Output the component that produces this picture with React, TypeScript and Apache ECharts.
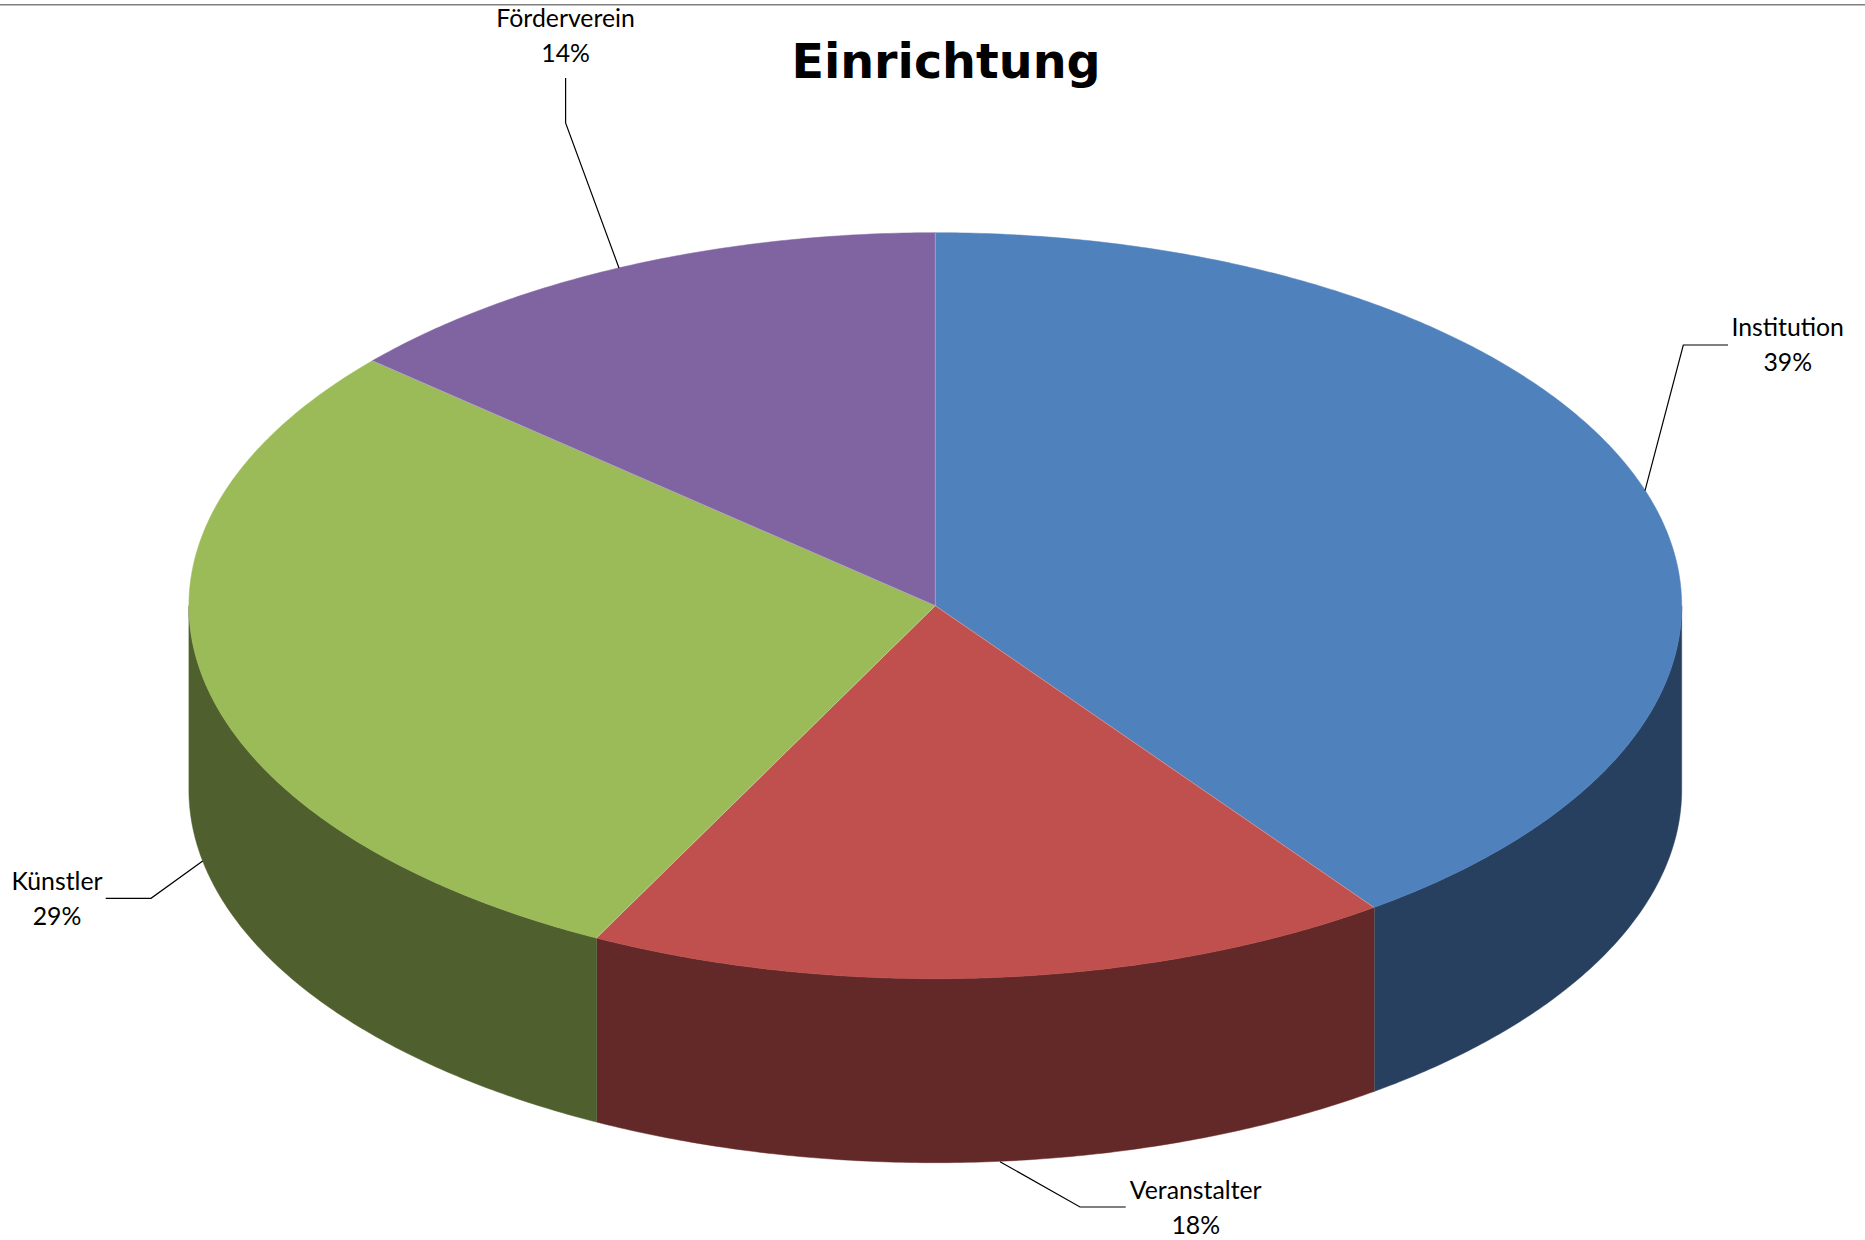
import React, { useEffect, useRef } from "react";
import * as echarts from "echarts";

const TITLE = "Einrichtung";
const CATEGORIES = ["Institution", "Veranstalter", "Künstler", "Förderverein"];
// Percentages as printed on the chart's labels.
const PRINTED_PERCENT = ["39%", "18%", "29%", "14%"];
// Shares of the circle as measured from the slice boundaries in the picture.
const SLICE_SHARES = [40.0, 17.5, 28.9, 13.6];
const TOP_COLORS = ["#4F81BD", "#C0504D", "#9BBB59", "#8064A2"];
const WALL_COLORS = ["#27405F", "#632828", "#4F5F2D", "#4A3A5E"];

const CX = 935.3;
const CY = 605.7;
const RX = 746.4;
const RY = 373;
const DEPTH = 184;

const FONT = "Lato, 'Open Sans', sans-serif";
const TEXT_LAYOUT = [
  { x: 1787.7, y: 344, leader: [[1728, 345], [1683.3, 345], [1645, 490.7]] },
  { x: 1195.7, y: 1207, leader: [[1125.7, 1207], [1080, 1207], [1000, 1161.7]] },
  { x: 57, y: 897.5, leader: [[105.7, 898.3], [151, 898.3], [202.7, 861]] },
  { x: 565.6, y: 35, leader: [[565.6, 78], [565.6, 123], [619, 268]] },
];

const TOTAL = SLICE_SHARES.reduce((a, b) => a + b, 0);
const sliceRange = (i: number): [number, number] => {
  let sum = 0;
  for (let k = 0; k < i; k++) sum += SLICE_SHARES[k];
  return [(sum / TOTAL) * 360, ((sum + SLICE_SHARES[i]) / TOTAL) * 360];
};
// deg: clockwise from the top of the disc.
const rim = (deg: number, dy = 0): number[] => {
  const a = (deg * Math.PI) / 180;
  return [CX + RX * Math.sin(a), CY - RY * Math.cos(a) + dy];
};
const arc = (a: number, b: number, dy = 0): number[][] => {
  const n = Math.max(2, Math.ceil((b - a) * 2));
  const out: number[][] = [];
  for (let k = 0; k <= n; k++) out.push(rim(a + ((b - a) * k) / n, dy));
  return out;
};

const renderWall = (params: any) => {
  const i = params.dataIndex;
  const [s, e] = sliceRange(i);
  const a = Math.max(s, 90);
  const b = Math.min(e, 270);
  if (b <= a) return { type: "group", children: [] };
  const children: any[] = [
    {
      type: "polygon",
      shape: { points: [...arc(a, b), ...arc(a, b, DEPTH).reverse()] },
      style: { fill: WALL_COLORS[i], stroke: WALL_COLORS[i], lineWidth: 0.5 },
    },
  ];
  if (e < 270) {
    const p = rim(e);
    children.push({
      type: "line",
      shape: { x1: p[0], y1: p[1], x2: p[0], y2: p[1] + DEPTH },
      style: { stroke: "#8c8c8c", lineWidth: 1 },
    });
  }
  return { type: "group", children };
};

const renderTop = (params: any) => {
  const i = params.dataIndex;
  const [s, e] = sliceRange(i);
  const p = rim(s);
  return {
    type: "group",
    children: [
      {
        type: "polygon",
        shape: { points: [[CX, CY], ...arc(s, e)] },
        style: { fill: TOP_COLORS[i], stroke: TOP_COLORS[i], lineWidth: 0.5 },
      },
      {
        type: "line",
        z2: 5,
        shape: { x1: CX, y1: CY, x2: p[0], y2: p[1] },
        style: { stroke: "rgba(255,255,255,0.3)", lineWidth: 1 },
      },
    ],
  };
};

const renderLabel = (params: any) => {
  const i = params.dataIndex;
  const l = TEXT_LAYOUT[i];
  return {
    type: "group",
    children: [
      {
        type: "polyline",
        shape: { points: l.leader },
        style: { stroke: "#000000", lineWidth: 1.2, fill: "none" },
      },
      {
        type: "text",
        x: l.x,
        y: l.y,
        style: {
          text: `${CATEGORIES[i]}\n${PRINTED_PERCENT[i]}`,
          font: `24.8px ${FONT}`,
          lineHeight: 35,
          fill: "#000000",
          align: "center",
          verticalAlign: "middle",
        },
      },
    ],
  };
};

export default function App() {
  const ref = useRef<HTMLDivElement>(null);
  useEffect(() => {
    if (!ref.current) return;
    const chart = echarts.init(ref.current, undefined, { renderer: "svg" });
    const data = CATEGORIES.map((name, i) => ({ name, value: SLICE_SHARES[i] }));
    chart.setOption({
      animation: false,
      backgroundColor: "#ffffff",
      title: {
        text: TITLE,
        left: 941,
        top: 32,
        textAlign: "center",
        textStyle: {
          fontFamily: "'DejaVu Sans', sans-serif",
          fontWeight: "bold",
          fontSize: 47.6,
          color: "#000000",
        },
      },
      graphic: [
        {
          type: "rect",
          shape: { x: 0, y: 4, width: 1865, height: 1.5 },
          style: { fill: "#808080" },
        },
      ],
      series: [
        { type: "custom", coordinateSystem: "none", renderItem: renderWall, data, z: 1, silent: true },
        { type: "custom", coordinateSystem: "none", renderItem: renderTop, data, z: 2, silent: true },
        { type: "custom", coordinateSystem: "none", renderItem: renderLabel, data, z: 3, silent: true },
      ],
    });
    return () => chart.dispose();
  }, []);
  return (
    <div
      ref={ref}
      style={{ position: "fixed", left: 0, top: 0, width: 1865, height: 1240 }}
    />
  );
}
